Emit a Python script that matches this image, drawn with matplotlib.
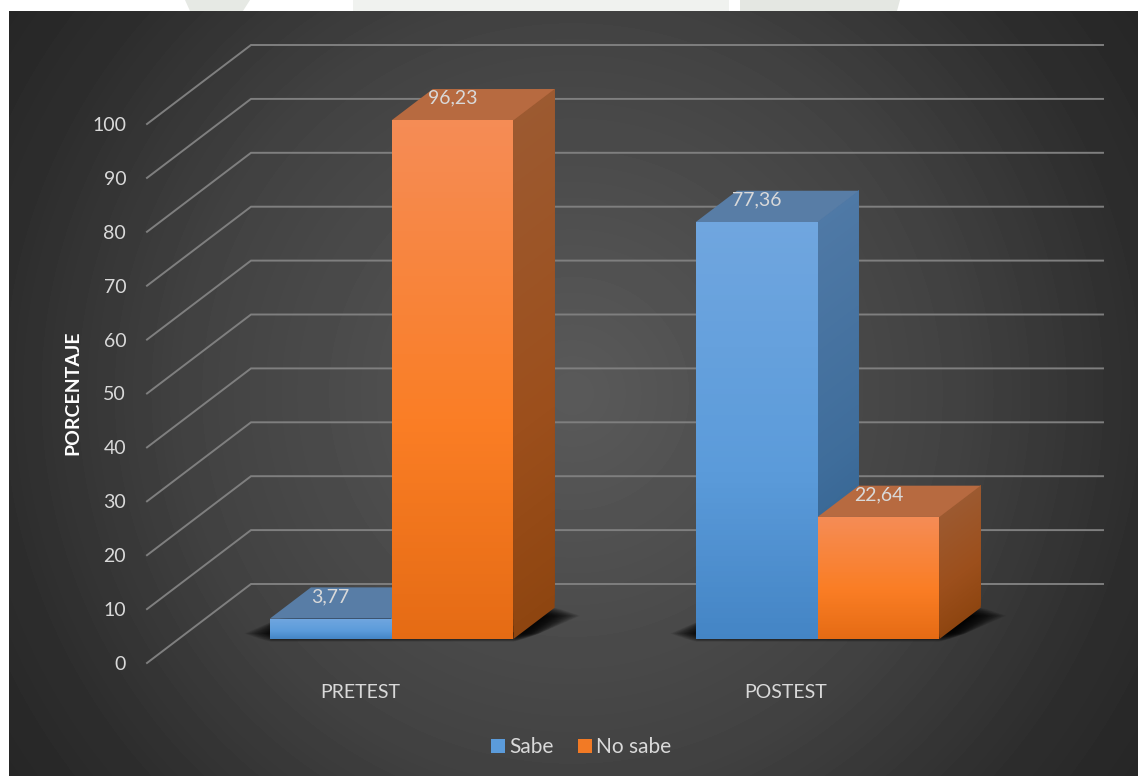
import numpy as np
import matplotlib
matplotlib.use("Agg")
import matplotlib.pyplot as plt
from matplotlib.patches import Patch, Polygon
from matplotlib.transforms import Affine2D

# data
categories = ["PRETEST", "POSTEST"]
sabe = [3.77, 77.36]
no_sabe = [96.23, 22.64]
y_ticks = [0, 10, 20, 30, 40, 50, 60, 70, 80, 90, 100]

W, H = 1138, 776
plt.rcParams["font.family"] = ["Lato", "DejaVu Sans"]
text_col = "#D9D9D9"

# 3d look of the chart: how far the back wall sits from the front plane, px
PLOT_W = 852
PLOT_H = 539
DEPTH_X, DEPTH_Y = 104, 79
BAR_D0, BAR_D1 = 0.304, 0.70
BAR_W = 0.286

blue = {"front": ["#70A6DF", "#5B9BDA", "#4485C5"], "side": ["#4F79A6", "#3F6D9B", "#2E5F8B"],
        "top": "#587DA6"}
orange = {"front": ["#F58C56", "#FA7D24", "#E56B14"], "side": ["#9C5A31", "#9C4F1C", "#8E4510"],
          "top": "#B76A40"}

fig = plt.figure(figsize=(W / 100, H / 100), dpi=100, facecolor="white")

# background panel
bg = fig.add_axes([0, 0, 1, 1], zorder=0)
bg.axis("off")
yy, xx = np.mgrid[11:H, 9:W]
r = np.hypot(xx - 572, yy - 393)
grey = np.interp(r, [0, 382, 566, 684], [0x5A, 0x42, 0x2E, 0x26]) / 255
bg.imshow(grey, cmap="gray", vmin=0, vmax=1, extent=(9, W, H, 11), aspect="auto", interpolation="bilinear")
bg.set_xlim(0, W)
bg.set_ylim(H, 0)
for pts, c in [([(185, 0), (250, 0), (243, 11), (190, 11)], "#E6E9E4"),
               ([(353, 0), (729, 0), (729, 11), (353, 11)], "#F0F2EF"),
               ([(740, 0), (900, 0), (897, 11), (740, 11)], "#E4E7E2")]:
    bg.add_patch(Polygon(pts, fc=c, ec="none"))

# main axes is the front plane of the chart
ax = fig.add_axes([147 / W, (H - 663) / H, PLOT_W / W, PLOT_H / H], zorder=1)
ax.patch.set_alpha(0)
ax.set_xlim(0, len(categories))
ax.set_ylim(0, 100)
for s in ax.spines.values():
    s.set_visible(False)


def at_depth(d):
    return ax.transData + Affine2D().translate(DEPTH_X * d, DEPTH_Y * d)


def shift_x(d):
    # depth offset expressed in category units
    return DEPTH_X * d / (PLOT_W / len(categories))


def shift_y(d):
    return DEPTH_Y * d / (PLOT_H / 100)


def hex_rgb(c):
    return [int(c[i:i + 2], 16) / 255 for i in (1, 3, 5)]


def face(x0, x1, d0, d1, v, stops, n=80):
    # parallelogram face, painted bottom up with overlapping pieces for the vertical gradient
    cols = np.array([hex_rgb(c) for c in stops[::-1]])
    for a in np.linspace(0, v, n, endpoint=False):
        t = a / v
        col = [np.interp(t, [0, 0.4, 1], cols[:, k]) for k in range(3)]
        pts = [(x0 + shift_x(d0), a + shift_y(d0)), (x1 + shift_x(d1), a + shift_y(d1)),
               (x1 + shift_x(d1), v + shift_y(d1)), (x0 + shift_x(d0), v + shift_y(d0))]
        ax.add_patch(Polygon(pts, fc=col, ec="none", clip_on=False, zorder=4))


def draw_bar(x0, v, style):
    x1 = x0 + BAR_W
    face(x1, x1, BAR_D0, BAR_D1, v, style["side"])
    top = [(x0 + shift_x(BAR_D0), v + shift_y(BAR_D0)), (x1 + shift_x(BAR_D0), v + shift_y(BAR_D0)),
           (x1 + shift_x(BAR_D1), v + shift_y(BAR_D1)), (x0 + shift_x(BAR_D1), v + shift_y(BAR_D1))]
    ax.add_patch(Polygon(top, fc=style["top"], ec="none", clip_on=False, zorder=4))
    face(x0, x1, BAR_D0, BAR_D0, v, style["front"])


def draw_shadow(x0, x1):
    # soft floor shadow, outer layers are wider but shallower
    for f in np.linspace(1, 0, 30):
        e = 0.06 * f ** 0.85
        front = shift_y(BAR_D0) - 0.5 + 1.5 * f
        back = shift_y(BAR_D1) - 1.5 * f
        fl = [(x0 - e + shift_x(BAR_D0), front), (x1 + e + shift_x(BAR_D0), front),
              (x1 + e + shift_x(BAR_D1), back), (x0 - e + shift_x(BAR_D1), back)]
        ax.add_patch(Polygon(fl, fc="black", ec="none", alpha=0.06, clip_on=False, zorder=3))


# gridlines: side wall then back wall
for v in y_ticks:
    ax.plot([0, shift_x(1), len(categories) + shift_x(1)], [v, v + shift_y(1), v + shift_y(1)],
            color="#7F7F7F", lw=1.4, clip_on=False, zorder=2, solid_joinstyle="miter")

labels = lambda v: f"{v:.2f}".replace(".", ",")
for i in range(len(categories)):
    c = i + 0.5
    draw_shadow(c - BAR_W, c + BAR_W)
    draw_bar(c - BAR_W, sabe[i], blue)
    draw_bar(c, no_sabe[i], orange)
    for xc, v in [(c - BAR_W / 2, sabe[i]), (c + BAR_W / 2, no_sabe[i])]:
        ax.annotate(labels(v), (xc, v), xycoords=at_depth(BAR_D0), xytext=(0, 16), textcoords="offset points",
                    ha="center", va="center", fontsize=14, color=text_col, zorder=6, annotation_clip=False)

ax.set_yticks(y_ticks)
ax.set_xticks([i + 0.5 for i in range(len(categories))])
ax.set_xticklabels(categories)
ax.tick_params(axis="both", length=0, labelsize=14, labelcolor=text_col)
ax.tick_params(axis="y", pad=15)
ax.tick_params(axis="x", pad=15)
for lab in ax.get_yticklabels():
    lab.set_verticalalignment("center_baseline")
ax.set_ylabel("PORCENTAJE", fontsize=14, fontweight="bold", color="white")
ax.yaxis.set_label_coords((81 - 147) / PLOT_W, 0.502)

handles = [Patch(fc="#5B9BDA", ec="none", label="Sabe"), Patch(fc="#F27A25", ec="none", label="No sabe")]
leg = fig.legend(handles=handles, loc="center", bbox_to_anchor=(581 / W, 1 - 747 / H), ncol=2, frameon=False,
                 fontsize=15, labelcolor=text_col, handlelength=0.68, handleheight=0.68, handletextpad=0.2,
                 columnspacing=1.15)

fig.savefig("out.png", dpi=100)
